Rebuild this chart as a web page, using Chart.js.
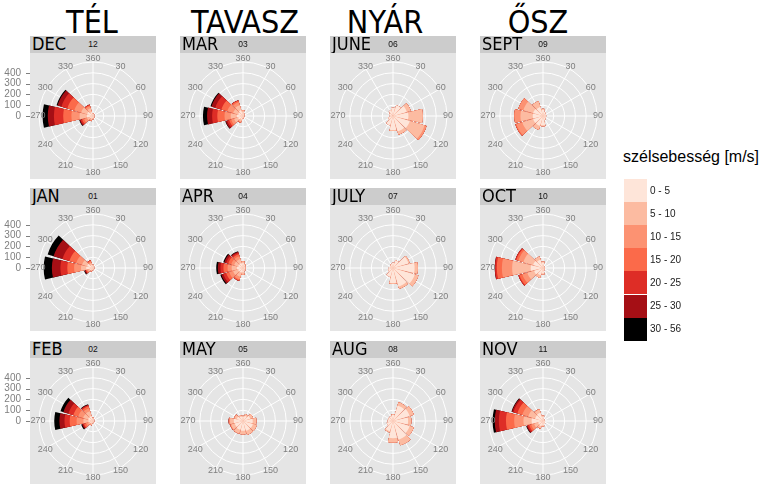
<!DOCTYPE html>
<html>
<head>
<meta charset="utf-8">
<script src="https://cdn.jsdelivr.net/npm/chart.js@4.4.0/dist/chart.umd.min.js"></script>
<style>
html,body{margin:0;padding:0;background:#fff;}
#root{position:relative;width:780px;height:487px;overflow:hidden;font-family:"Liberation Sans",Arial,sans-serif;background:#fff;}
.season{position:absolute;top:6px;font-family:"Liberation Sans Narrow","DejaVu Sans Condensed",sans-serif;font-size:32px;line-height:32px;color:#000;transform:translateX(-50%);white-space:nowrap;}
.strip{position:absolute;height:17px;width:126px;background:#CCCCCC;}
.strip .m{position:absolute;left:2px;top:-1px;font-family:"Liberation Sans Narrow","DejaVu Sans Condensed",sans-serif;font-size:18px;line-height:18px;color:#000;white-space:nowrap;}
.strip .n{position:absolute;left:0;width:126px;text-align:center;top:4px;font-size:8.5px;line-height:8px;color:#111;}
canvas{position:absolute;}
.lg-title{position:absolute;left:623px;top:148px;font-size:16px;line-height:18px;color:#000;white-space:nowrap;}
.lg-sw{position:absolute;left:624px;width:23px;height:23px;}
.lg-tx{position:absolute;left:650px;font-size:10px;line-height:12px;color:#1a1a1a;white-space:nowrap;}
</style>
</head>
<body>
<div id="root"></div>
<script>
// ---------- data ----------
const directions = [360, 30, 60, 90, 120, 150, 180, 210, 240, 270, 300, 330];
const speedClasses = ['0 - 5', '5 - 10', '10 - 15', '15 - 20', '20 - 25', '25 - 30', '30 - 56'];
const classColors = ['#FEE5D9', '#FCBBA1', '#FC9272', '#FB6A4A', '#DE2D26', '#A50F15', '#000000'];
const radialTicks = [0, 100, 200, 300, 400];
const seasons = ['TÉL', 'TAVASZ', 'NYÁR', 'ŐSZ'];
const legendTitle = 'szélsebesség [m/s]';

// counts: one row per direction (360..330), one column per speed class
const dec = [[20,5],[15,5],[10,3],[10,2],[12,3],[15,5],[20,8,2],[25,15,8,3],
  [29,28,29,19,14,9,5],[57,67,76,76,86,57,48],[57,57,67,67,57,38,9],[38,38,19,10,5]];
const jan = [[25,5],[15,3],[10,2],[10,2],[10,3],[12,3],[15,5],[20,10,5,2],
  [29,19,9,10,4,10,5],[63,48,64,63,64,79,76],[57,48,57,66,67,86,57],[29,19,14,10,4]];
const feb = [[25,8],[15,3],[10,2],[10,2],[10,3],[12,3],[15,5],[25,12,5,2],
  [29,19,19,19,9,10,9],[41,48,63,64,48,47,48],[48,47,48,47,48,48,28],[48,47,29,19,9,5,5]];
const mar = [[35,15,5],[20,5],[12,3],[10,3],[10,3],[12,3],[20,5],[35,20,8,3],
  [48,38,28,19,19,15,4],[57,57,57,67,48,47,38],[48,47,57,57,58,38,9],[57,48,28,15,4]];
const apr = [[45,15,5],[30,10],[20,5],[20,5],[20,5],[25,8],[40,20,5],[45,40,25,10,5],
  [48,47,38,29,28,19,10],[57,48,38,38,28,24,15],[48,38,28,29,19,19,9],[48,38,28,19,15,9,5]];
const may = [[38,10],[50,17],[70,25],[90,34],[95,38],[95,38],[90,34],[85,35,4],
  [80,35,6,2,1],[85,35,8,3,2],[60,22,4],[45,12]];
const jun = [[76],[105],[133,38],[143,133],[162,143,19],[150,30],[130,10],[90],
  [48],[29],[38],[57]];
const jul = [[48],[76],[150,10],[200,30],[210,35],[180,20],[140,8],[86],
  [48],[38],[29],[38]];
const aug = [[57,5],[150,30],[160,40],[140,30],[160,40],[180,55],[160,40],[100,10],
  [60],[48],[48],[48]];
const sep = [[57,10],[40],[29],[29],[29],[38],[86,10],[95,38],
  [95,105,57,10],[95,114,57],[95,95,48],[86,57]];
const oct = [[50,10],[20],[15],[15],[15],[25],[50,10],[70,25],
  [86,66,48,28,10],[114,172,95,47,15,4],[95,95,48,19,10],[80,30]];
const nov = [[40,10],[20],[15],[15],[20],[30],[40,10],[50,20,5],
  [48,38,28,19,15,9,5],[105,76,86,76,66,38,20],[76,67,57,48,38,14,5],[80,30,5]];

// facet layout: rows x columns
const panels = [
  [{name:'DEC', num:'12', d:dec}, {name:'MAR', num:'03', d:mar}, {name:'JUNE', num:'06', d:jun}, {name:'SEPT', num:'09', d:sep}],
  [{name:'JAN', num:'01', d:jan}, {name:'APR', num:'04', d:apr}, {name:'JULY', num:'07', d:jul}, {name:'OCT', num:'10', d:oct}],
  [{name:'FEB', num:'02', d:feb}, {name:'MAY', num:'05', d:may}, {name:'AUG', num:'08', d:aug}, {name:'NOV', num:'11', d:nov}]
];

// ---------- layout ----------
const colLeft = [30, 180, 330, 480];
const rowTop = [53, 205, 358];
const seasonX = [92, 245, 385, 538];
const PANEL = 126, STRIP = 17, AXISW = 30;
const BAR = 27, GAP = 3;

const root = document.getElementById('root');
seasons.forEach((s, i) => {
  const el = document.createElement('div');
  el.className = 'season'; el.textContent = s; el.style.left = seasonX[i] + 'px';
  root.appendChild(el);
});

const polarDecor = {
  id: 'polarDecor',
  beforeDraw(chart, args, o) {
    const ctx = chart.ctx;
    ctx.save();
    ctx.fillStyle = '#E5E5E5';
    ctx.fillRect(AXISW, 0, PANEL, PANEL);
    ctx.restore();
  },
  beforeDatasetsDraw(chart) {
    const s = chart.scales.r, ctx = chart.ctx;
    const L = s.drawingArea + 3;
    ctx.save();
    ctx.strokeStyle = '#FFFFFF'; ctx.lineWidth = 1;
    ctx.beginPath();
    directions.forEach(d => {
      const a = d * Math.PI / 180;
      ctx.moveTo(s.xCenter, s.yCenter);
      ctx.lineTo(s.xCenter + Math.sin(a) * L, s.yCenter - Math.cos(a) * L);
    });
    ctx.stroke();
    ctx.restore();
  },
  afterDraw(chart, args, o) {
    const s = chart.scales.r, ctx = chart.ctx;
    ctx.save();
    ctx.font = '9px "Liberation Sans", Arial, sans-serif';
    ctx.fillStyle = '#7F7F7F';
    ctx.textAlign = 'center'; ctx.textBaseline = 'middle';
    const rx = s.drawingArea + 1, ry = s.drawingArea + 3;
    directions.forEach(d => {
      const a = d * Math.PI / 180;
      ctx.fillText(String(d), s.xCenter + Math.sin(a) * rx, s.yCenter - Math.cos(a) * ry);
    });
    if (o.axis) {
      ctx.font = '10px "Liberation Sans", Arial, sans-serif';
      ctx.textAlign = 'right';
      ctx.strokeStyle = '#7F7F7F'; ctx.lineWidth = 1;
      radialTicks.forEach(v => {
        const y = s.yCenter - s.getDistanceFromCenterForValue(v);
        ctx.fillText(String(v), AXISW - 9, y);
        ctx.beginPath();
        ctx.moveTo(AXISW - 4, Math.round(y) + 0.5);
        ctx.lineTo(AXISW, Math.round(y) + 0.5);
        ctx.stroke();
      });
    }
    ctx.restore();
  }
};

function cumulative(rows, k) {
  const out = [];
  rows.forEach(r => {
    let sum = 0;
    for (let j = 0; j <= k; j++) sum += (r[j] || 0);
    out.push(sum); // bar
    out.push(0);   // gap between bars
  });
  return out;
}

const segLabels = [];
directions.forEach(d => { segLabels.push(String(d)); segLabels.push(''); });

panels.forEach((row, ri) => {
  row.forEach((p, ci) => {
    const left = colLeft[ci], top = rowTop[ri];
    const strip = document.createElement('div');
    strip.className = 'strip';
    strip.style.left = left + 'px'; strip.style.top = (top - STRIP) + 'px';
    strip.innerHTML = '<span class="m"></span><span class="n"></span>';
    strip.querySelector('.m').textContent = p.name;
    strip.querySelector('.n').textContent = p.num;
    root.appendChild(strip);

    const cv = document.createElement('canvas');
    cv.width = PANEL + AXISW; cv.height = PANEL;
    cv.style.width = (PANEL + AXISW) + 'px'; cv.style.height = PANEL + 'px';
    cv.style.left = (left - AXISW) + 'px'; cv.style.top = top + 'px';
    root.appendChild(cv);

    new Chart(cv, {
      type: 'polarArea',
      data: {
        labels: segLabels,
        datasets: speedClasses.map((name, k) => ({
          label: name,
          data: cumulative(p.d, k),
          backgroundColor: classColors[k],
          borderWidth: 0,
          angle: ctx => (ctx.dataIndex % 2 ? GAP : BAR)
        }))
      },
      options: {
        responsive: false,
        animation: false,
        devicePixelRatio: 1,
        events: [],
        layout: { padding: { left: AXISW + 9, right: 9, top: 9, bottom: 9 } },
        plugins: {
          legend: { display: false },
          tooltip: { enabled: false },
          polarDecor: { axis: ci === 0 }
        },
        scales: {
          r: {
            min: 0, max: 500,
            startAngle: -BAR / 2,
            ticks: { display: false, stepSize: 100 },
            grid: { color: '#FFFFFF', lineWidth: 1, circular: true },
            angleLines: { display: false },
            pointLabels: { display: false }
          }
        }
      },
      plugins: [polarDecor]
    });
  });
});

// legend
const lt = document.createElement('div');
lt.className = 'lg-title'; lt.textContent = legendTitle; root.appendChild(lt);
speedClasses.forEach((c, i) => {
  const y = 179 + i * 23.1;
  const sw = document.createElement('div');
  sw.className = 'lg-sw'; sw.style.top = y + 'px'; sw.style.background = classColors[i];
  root.appendChild(sw);
  const tx = document.createElement('div');
  tx.className = 'lg-tx'; tx.style.top = (y + 5.5) + 'px'; tx.textContent = c;
  root.appendChild(tx);
});
</script>
</body>
</html>
